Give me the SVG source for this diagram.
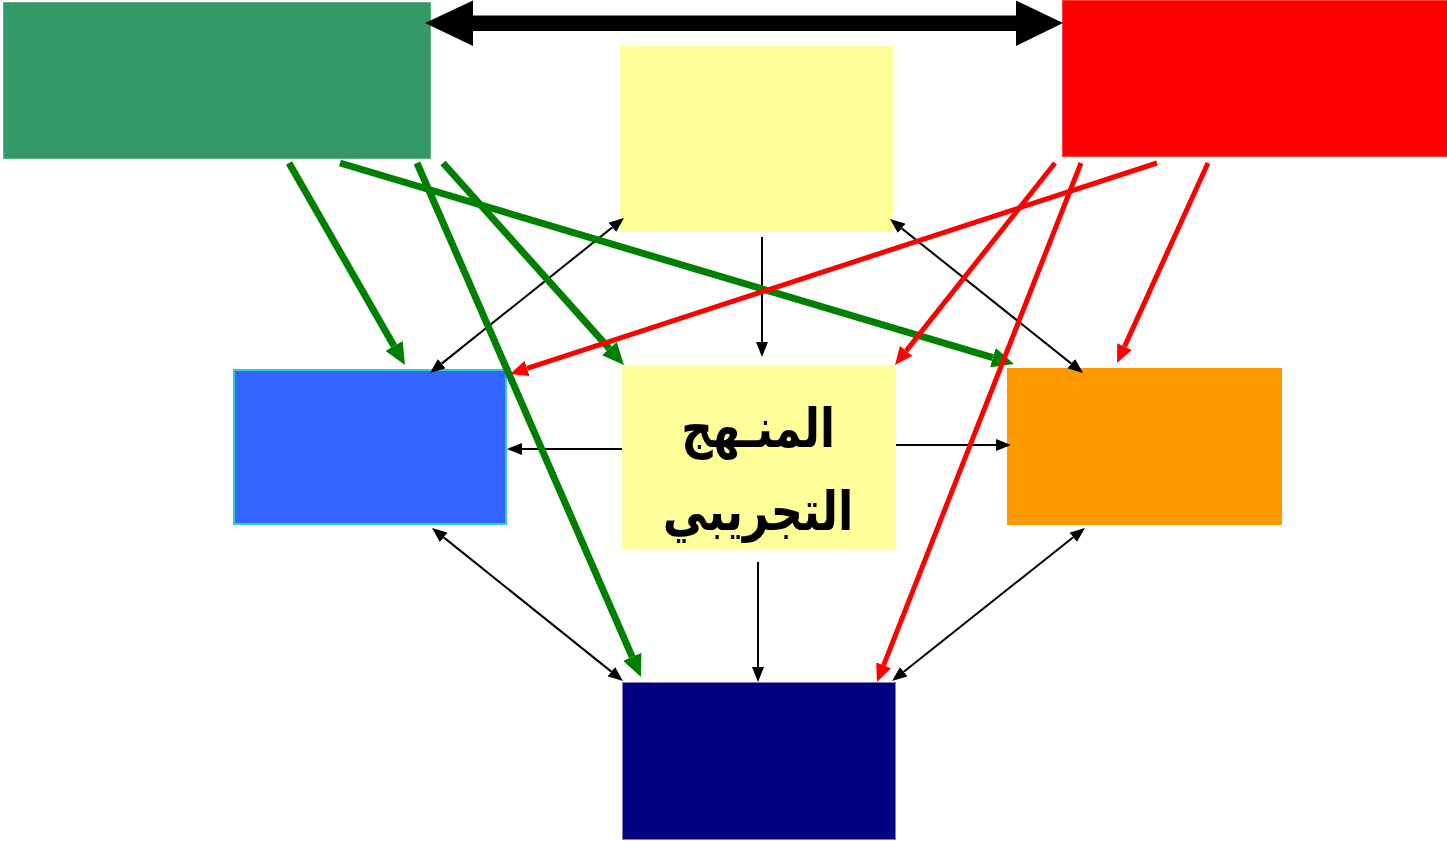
<svg xmlns="http://www.w3.org/2000/svg" width="1447" height="841" viewBox="0 0 1447 841">
<style>
.g{stroke:#008000;stroke-width:7;fill:none;marker-end:url(#mg)}
.r{stroke:#FF0000;stroke-width:5;fill:none;marker-end:url(#mr)}
.k{stroke:#000;stroke-width:2;fill:none;marker-end:url(#mk)}
.kk{stroke:#000;stroke-width:2;fill:none;marker-end:url(#mk);marker-start:url(#mk)}
.lbl{font-family:"DejaVu Sans",sans-serif;font-weight:bold;font-size:52px;fill:#000;text-anchor:middle}
</style>
<defs>
<marker id="mg" markerUnits="userSpaceOnUse" markerWidth="22" markerHeight="20" viewBox="0 -10 22 20" refX="0" refY="0" orient="auto-start-reverse"><path d="M0,-10 L22,0 L0,10 z" fill="#008000"/></marker>
<marker id="mr" markerUnits="userSpaceOnUse" markerWidth="18" markerHeight="16" viewBox="0 -8 18 16" refX="0" refY="0" orient="auto-start-reverse"><path d="M0,-8 L18,0 L0,8 z" fill="#FF0000"/></marker>
<marker id="mk" markerUnits="userSpaceOnUse" markerWidth="15" markerHeight="12" viewBox="0 -6 15 12" refX="0" refY="0" orient="auto-start-reverse"><path d="M0,-6 L15,0 L0,6 z" fill="#000"/></marker>
</defs>
<rect width="1447" height="841" fill="#fff"/>
<g id="node-green"><rect x="3.5" y="2.5" width="427" height="156" fill="#339966" stroke="#5fb089" stroke-width="1"/></g>
<g id="node-red"><rect x="1062.5" y="0.5" width="386" height="156" fill="#FF0000" stroke="#ff4040" stroke-width="1"/></g>
<g id="node-yellow-top"><rect x="620" y="46" width="273" height="186" fill="#FFFF99"/></g>
<g id="node-blue"><rect x="234" y="370" width="272" height="154" fill="#3366FF" stroke="#33CCCC" stroke-width="2"/></g>
<g id="node-orange"><rect x="1007" y="368" width="275" height="157" fill="#FF9900"/></g>
<g id="node-center"><rect x="622" y="365" width="274" height="185" fill="#FFFF99"/>
<text class="lbl" direction="rtl" transform="translate(758,447) scale(0.84,1.05)" x="0" y="0">المنـهج</text>
<text class="lbl" direction="rtl" transform="translate(758,530) scale(0.86,1.05)" x="0" y="0">التجريبي</text></g>
<g id="node-navy"><rect x="622.5" y="682.5" width="273" height="157" fill="#000080" stroke="#8080c0" stroke-width="1"/></g>
<g id="connectors">
<polygon points="425,23 473,0.5 473,15.5 1016,15.5 1016,0.5 1063,23 1016,46 1016,31 473,31 473,46" fill="#000"/>
<line class="kk" x1="612.3" y1="227.4" x2="441.7" y2="363.6"/>
<line class="kk" x1="901.7" y1="228.4" x2="1071.3" y2="363.6"/>
<line class="k" x1="762" y1="237" x2="762" y2="342"/>
<line class="k" x1="622" y1="449" x2="522" y2="449"/>
<line class="k" x1="896" y1="445" x2="996" y2="445"/>
<line class="k" x1="758" y1="562" x2="758" y2="667"/>
<line class="kk" x1="443.7" y1="537.4" x2="611.3" y2="671.6"/>
<line class="kk" x1="1073.2" y1="537.3" x2="903.8" y2="671.7"/>
<line class="g" x1="289" y1="163" x2="394" y2="345.9"/>
<line class="g" x1="340" y1="163" x2="992.9" y2="357.7"/>
<line class="g" x1="417" y1="163" x2="632.2" y2="656.8"/>
<line class="g" x1="443" y1="163" x2="609.3" y2="348.6"/>
<line class="r" x1="1157" y1="163" x2="527.1" y2="368.4"/>
<line class="r" x1="1055" y1="163" x2="906.2" y2="350.9"/>
<line class="r" x1="1081" y1="163" x2="883.6" y2="665.3"/>
<line class="r" x1="1208" y1="163" x2="1124.5" y2="346.6"/>
</g>
</svg>
